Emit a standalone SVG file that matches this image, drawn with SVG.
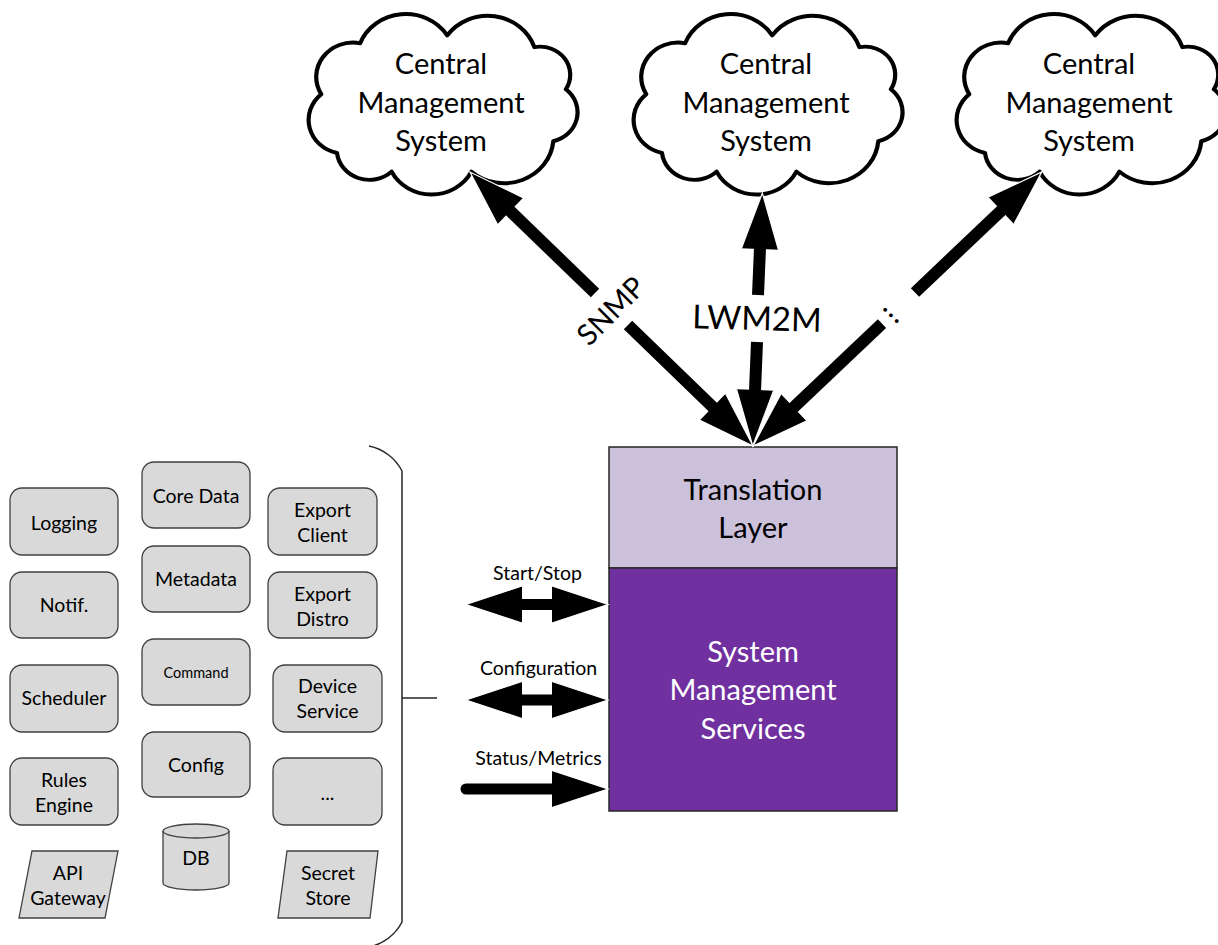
<svg xmlns="http://www.w3.org/2000/svg" width="1218" height="945" viewBox="0 0 1218 945">
<style>
text{font-family:Lato,"Liberation Sans",sans-serif;fill:#000;text-anchor:middle}
.cl{font-size:29px}
.big{font-size:29px}
.nt{font-size:19.5px}
.lb{font-size:19.5px}
.node{fill:#d9d9d9;stroke:#404040;stroke-width:1.3}
.cloud{fill:#fff;stroke:#000;stroke-width:4;stroke-linejoin:round}
.sh{stroke:#000;stroke-width:12;fill:none}
.shs{stroke:#000;stroke-width:11;fill:none}
</style>
<defs>
<marker id="ah" viewBox="0 0 56 37" refX="1" refY="18.5" markerWidth="56" markerHeight="37" markerUnits="userSpaceOnUse" orient="auto-start-reverse" overflow="visible">
<path d="M0,0 L56,18.5 L0,37 Z" fill="#000"/>
<path d="M0,0 L56,18.5 L0,37" fill="none" stroke="#fff" stroke-width="1.2"/>
</marker>
<path id="cloudShape" class="cloud" d="M-78,-62 A46.7,46.7 0 0 1 5,-70 A47,47 0 0 1 88,-58 A28.7,28.7 0 0 1 118,-15 A30.4,30.4 0 0 1 106,38 A47,47 0 0 1 28,69 A42.6,42.6 0 0 1 -48,69 A31,31 0 0 1 -100,50 A34.6,34.6 0 0 1 -115,-10 A35,35 0 0 1 -78,-62 Z"/>
</defs>

<g id="cloud1">
<use href="#cloudShape" transform="translate(442,104) scale(1.05,0.98)"/>
<text class="cl" x="441" y="74">Central</text>
<text class="cl" x="441" y="113">Management</text>
<text class="cl" x="441" y="151">System</text>
</g>
<g id="cloud2">
<use href="#cloudShape" transform="translate(767,104) scale(1.05,0.98)"/>
<text class="cl" x="766" y="74">Central</text>
<text class="cl" x="766" y="113">Management</text>
<text class="cl" x="766" y="151">System</text>
</g>
<g id="cloud3">
<use href="#cloudShape" transform="translate(1090,104) scale(1.05,0.98)"/>
<text class="cl" x="1089" y="74">Central</text>
<text class="cl" x="1089" y="113">Management</text>
<text class="cl" x="1089" y="151">System</text>
</g>

<g id="translation-layer">
<rect x="609" y="447" width="288" height="121" fill="#cbc1da" stroke="#262626" stroke-width="1.5"/>
<text class="big" x="753" y="500">Translation</text>
<text class="big" x="753" y="538">Layer</text>
</g>
<g id="system-management-services">
<rect x="609" y="568" width="288" height="243" fill="#7030a0" stroke="#262626" stroke-width="1.5"/>
<text class="big" x="753" y="662" style="fill:#fff">System</text>
<text class="big" x="753" y="700" style="fill:#fff">Management</text>
<text class="big" x="753" y="739" style="fill:#fff">Services</text>
</g>

<g id="connectors">
<line class="sh" x1="595" y1="293" x2="509.5" y2="210.3" marker-end="url(#ah)"/>
<line class="sh" x1="628" y1="325" x2="713.5" y2="407.7" marker-end="url(#ah)"/>
<line class="sh" x1="915" y1="292.5" x2="1002" y2="209.8" marker-end="url(#ah)"/>
<line class="sh" x1="882" y1="323.7" x2="792.9" y2="408.2" marker-end="url(#ah)"/>
<line class="sh" x1="758" y1="295" x2="760" y2="248" marker-end="url(#ah)"/>
<line class="sh" x1="757" y1="342" x2="755" y2="391" marker-end="url(#ah)"/>
<text x="611" y="321" style="font-size:29px" transform="rotate(-45 611 311)">SNMP</text>
<text x="757" y="330" style="font-size:33px" transform="rotate(1.5 757 318)">LWM2M</text>
<text x="895" y="319" style="font-size:30px;letter-spacing:1px" transform="rotate(45 895 312)">...</text>

<line class="shs" x1="521" y1="604.5" x2="553" y2="604.5" marker-start="url(#ah)" marker-end="url(#ah)"/>
<line class="shs" x1="521" y1="700" x2="553" y2="700" marker-start="url(#ah)" marker-end="url(#ah)"/>
<line class="shs" x1="466" y1="789" x2="553" y2="789" stroke-linecap="round" marker-end="url(#ah)"/>
<text class="lb" x="537.5" y="580">Start/Stop</text>
<text class="lb" x="538.5" y="675">Configuration</text>
<text class="lb" x="538.5" y="765">Status/Metrics</text>

<path d="M369,446 A48,48 0 0 1 402,471 L402,922 A48,48 0 0 1 369,947" fill="none" stroke="#262626" stroke-width="1.5"/>
<line x1="402" y1="698" x2="437" y2="698" stroke="#262626" stroke-width="1.5"/>
</g>

<g id="logging"><rect class="node" x="10" y="488" width="108" height="67" rx="12"/><text class="nt" x="64" y="530">Logging</text></g>
<g id="notif"><rect class="node" x="10" y="572" width="108" height="66" rx="12"/><text class="nt" x="64" y="612">Notif.</text></g>
<g id="scheduler"><rect class="node" x="10" y="665" width="108" height="67" rx="12"/><text class="nt" x="64" y="705">Scheduler</text></g>
<g id="rules-engine"><rect class="node" x="10" y="758" width="108" height="67" rx="12"/><text class="nt" x="64" y="787">Rules</text><text class="nt" x="64" y="812">Engine</text></g>
<g id="api-gateway"><path class="node" d="M32,851 L118,851 L105,918 L19,918 Z"/><text class="nt" x="68" y="880">API</text><text class="nt" x="68" y="905">Gateway</text></g>

<g id="core-data"><rect class="node" x="142" y="462" width="108" height="66" rx="12"/><text class="nt" x="196" y="503">Core Data</text></g>
<g id="metadata"><rect class="node" x="142" y="546" width="108" height="66" rx="12"/><text class="nt" x="196" y="586">Metadata</text></g>
<g id="command"><rect class="node" x="142" y="639" width="108" height="66" rx="12"/><text x="196" y="678" style="font-size:14.5px">Command</text></g>
<g id="config"><rect class="node" x="142" y="732" width="108" height="65" rx="12"/><text class="nt" x="196" y="772">Config</text></g>
<g id="db"><path class="node" d="M163,831 L163,883 A33,7 0 0 0 229,883 L229,831 A33,7 0 0 0 163,831 Z"/><path d="M163,831 A33,7 0 0 0 229,831" fill="none" stroke="#404040" stroke-width="1.3"/><text class="nt" x="196" y="865">DB</text></g>

<g id="export-client"><rect class="node" x="268" y="488" width="109" height="67" rx="12"/><text class="nt" x="322.5" y="517">Export</text><text class="nt" x="322.5" y="542">Client</text></g>
<g id="export-distro"><rect class="node" x="268" y="572" width="109" height="66" rx="12"/><text class="nt" x="322.5" y="601">Export</text><text class="nt" x="322.5" y="626">Distro</text></g>
<g id="device-service"><rect class="node" x="273" y="665" width="109" height="67" rx="12"/><text class="nt" x="327.5" y="693">Device</text><text class="nt" x="327.5" y="718">Service</text></g>
<g id="more"><rect class="node" x="273" y="758" width="109" height="67" rx="12"/><text class="nt" x="327.5" y="800">...</text></g>
<g id="secret-store"><path class="node" d="M287,851 L378,851 L370,918 L278,918 Z"/><text class="nt" x="328" y="880">Secret</text><text class="nt" x="328" y="905">Store</text></g>
</svg>
